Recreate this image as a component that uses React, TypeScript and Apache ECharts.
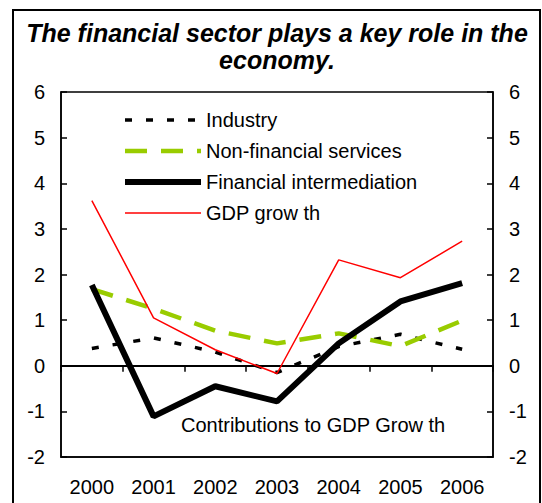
import React, { useEffect, useRef } from "react";
import * as echarts from "echarts";

const years = ["2000", "2001", "2002", "2003", "2004", "2005", "2006"];
const industry = [0.38, 0.61, 0.3, -0.15, 0.42, 0.69, 0.36];
const nonFinancial = [1.68, 1.25, 0.77, 0.49, 0.71, 0.43, 0.99];
const financialIntermediation = [1.77, -1.11, -0.45, -0.78, 0.49, 1.41, 1.81];
const gdpGrowth = [3.62, 1.05, 0.35, -0.17, 2.32, 1.93, 2.73];

const titleLines = ["The financial sector plays a key role in the", "economy."];
const note = "Contributions to GDP Grow th";

const FONT = "'Liberation Sans', Arial, sans-serif";

export default function App() {
  const ref = useRef<HTMLDivElement>(null);
  useEffect(() => {
    if (!ref.current) return;
    const chart = echarts.init(ref.current, null, { renderer: "svg" });
    const yAxisCommon = {
      type: "value" as const,
      min: -2,
      max: 6,
      interval: 1,
      axisLine: { show: true, lineStyle: { color: "#000", width: 1.5 } },
      axisTick: { show: true, inside: true, length: 6, lineStyle: { color: "#000", width: 1.5 } },
      axisLabel: { color: "#000", fontSize: 20, fontFamily: FONT, margin: 16 },
      splitLine: { show: false },
    };
    chart.setOption({
      animation: false,
      backgroundColor: "#fff",
      grid: {
        left: 61,
        right: 49,
        top: 92,
        bottom: 46,
        show: true,
        borderColor: "#000",
        borderWidth: 1.5,
        backgroundColor: "transparent",
      },
      legend: {
        orient: "vertical",
        left: 122,
        top: 110,
        padding: 0,
        itemWidth: 76,
        itemHeight: 14,
        itemGap: 11,
        itemStyle: { opacity: 0 },
        lineStyle: { width: "inherit", type: "inherit", color: "inherit" },
        textStyle: { color: "#000", fontSize: 20, fontFamily: FONT },
        data: ["Industry", "Non-financial services", "Financial intermediation", "GDP grow th"],
      },
      xAxis: [
        {
          type: "category",
          data: years,
          position: "bottom",
          boundaryGap: true,
          axisLine: { show: true, onZero: false, lineStyle: { color: "#000", width: 1.5 } },
          axisTick: { show: false },
          axisLabel: { color: "#000", fontSize: 20, fontFamily: FONT, margin: 20 },
          splitLine: { show: false },
        },
        {
          type: "category",
          data: years,
          position: "bottom",
          boundaryGap: true,
          axisLine: { show: true, onZero: true, lineStyle: { color: "#000", width: 2 } },
          axisTick: { show: true, inside: false, length: 6, lineStyle: { color: "#000", width: 1.5 } },
          axisLabel: { show: false },
          splitLine: { show: false },
        },
      ],
      yAxis: [
        { ...yAxisCommon, position: "left" },
        { ...yAxisCommon, position: "right" },
      ],
      series: [
        {
          name: "Industry",
          type: "line",
          data: industry,
          symbol: "none",
          lineStyle: { color: "#000", width: 3.5, type: [7, 14] },
          itemStyle: { color: "#000" },
          z: 2,
        },
        {
          name: "Non-financial services",
          type: "line",
          data: nonFinancial,
          symbol: "none",
          lineStyle: { color: "#99CC00", width: 4.5, type: [22, 14] },
          itemStyle: { color: "#99CC00" },
          z: 3,
        },
        {
          name: "Financial intermediation",
          type: "line",
          data: financialIntermediation,
          symbol: "none",
          lineStyle: { color: "#000", width: 6 },
          itemStyle: { color: "#000" },
          z: 4,
        },
        {
          name: "GDP grow th",
          type: "line",
          data: gdpGrowth,
          symbol: "none",
          lineStyle: { color: "#FF0000", width: 1.5 },
          itemStyle: { color: "#FF0000" },
          z: 5,
        },
      ],
      graphic: [
        {
          type: "rect",
          shape: { x: 13, y: 10, width: 527, height: 520 },
          style: { fill: "none", stroke: "#000", lineWidth: 2 },
          silent: true,
          z: 0,
        },
        {
          type: "text",
          x: 277,
          y: 33,
          style: {
            text: titleLines[0],
            font: `italic bold 25px ${FONT}`,
            fill: "#000",
            align: "center",
            verticalAlign: "middle",
          },
        },
        {
          type: "text",
          x: 277,
          y: 60,
          style: {
            text: titleLines[1],
            font: `italic bold 25px ${FONT}`,
            fill: "#000",
            align: "center",
            verticalAlign: "middle",
          },
        },
        {
          type: "text",
          x: 181,
          y: 425,
          style: {
            text: note,
            font: `20px ${FONT}`,
            fill: "#000",
            align: "left",
            verticalAlign: "middle",
          },
        },
      ],
    });
    return () => chart.dispose();
  }, []);
  return (
    <div
      ref={ref}
      style={{ position: "fixed", left: 0, top: 0, width: 542, height: 503, background: "#fff" }}
    />
  );
}
